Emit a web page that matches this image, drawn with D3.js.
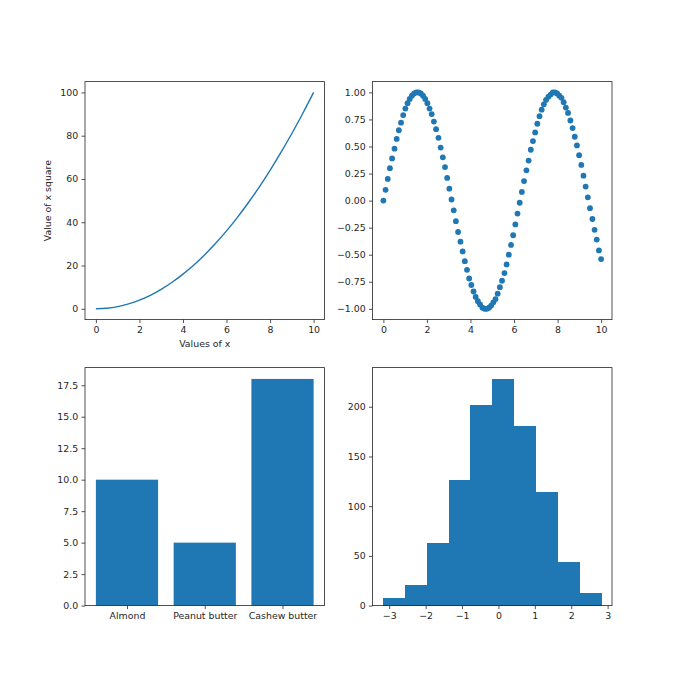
<!DOCTYPE html>
<html lang="en">
  <head>
    <meta charset="UTF-8" />
    <title>subplots</title>
    <script src="https://d3js.org/d3.v7.min.js"></script>
    <style>
      body { margin: 0; background: #fff; }
      text { font-family: "DejaVu Sans", sans-serif !important; }
      .tick text { font-size: 9.4px; fill: #262626; }
      .tick line { stroke: #262626; stroke-width: 0.8; }
      .spine { fill: none; stroke: #262626; stroke-width: 0.8; }
      .label { font-size: 9.4px; fill: #262626; }
    </style>
  </head>
  <body>
    <div id="chart"></div>
    <script>
      // --- datos ---
      // linea x^2
      var lineX = [0, 0.5, 1, 1.5, 2, 2.5, 3, 3.5, 4, 4.5, 5, 5.5, 6, 6.5, 7, 7.5, 8, 8.5, 9, 9.5, 10];
      var lineY = [0, 0.25, 1, 2.25, 4, 6.25, 9, 12.25, 16, 20.25, 25, 30.25, 36, 42.25, 49, 56.25, 64, 72.25, 81, 90.25, 100];

      // puntos seno
      var dotX = [
        0, 0.10, 0.20, 0.30, 0.40, 0.51, 0.61, 0.71, 0.81, 0.91,
        1.01, 1.11, 1.21, 1.31, 1.41, 1.52, 1.62, 1.72, 1.82, 1.92,
        2.02, 2.12, 2.22, 2.32, 2.42, 2.53, 2.63, 2.73, 2.83, 2.93,
        3.03, 3.13, 3.23, 3.33, 3.43, 3.54, 3.64, 3.74, 3.84, 3.94,
        4.04, 4.14, 4.24, 4.34, 4.44, 4.55, 4.65, 4.75, 4.85, 4.95,
        5.05, 5.15, 5.25, 5.35, 5.45, 5.56, 5.66, 5.76, 5.86, 5.96,
        6.06, 6.16, 6.26, 6.36, 6.46, 6.57, 6.67, 6.77, 6.87, 6.97,
        7.07, 7.17, 7.27, 7.37, 7.47, 7.58, 7.68, 7.78, 7.88, 7.98,
        8.08, 8.18, 8.28, 8.38, 8.48, 8.59, 8.69, 8.79, 8.89, 8.99,
        9.09, 9.19, 9.29, 9.39, 9.49, 9.60, 9.70, 9.80, 9.90, 10
      ];
      var dotY = [
        0, 0.10, 0.20, 0.30, 0.39, 0.48, 0.57, 0.65, 0.72, 0.79,
        0.85, 0.90, 0.94, 0.97, 0.99, 1.00, 1.00, 0.99, 0.97, 0.94,
        0.90, 0.85, 0.80, 0.73, 0.66, 0.58, 0.49, 0.40, 0.31, 0.21,
        0.11, 0.01, -0.09, -0.19, -0.29, -0.38, -0.47, -0.56, -0.64, -0.72,
        -0.78, -0.84, -0.89, -0.93, -0.96, -0.99, -1.00, -1.00, -0.99, -0.97,
        -0.94, -0.91, -0.86, -0.80, -0.74, -0.67, -0.59, -0.50, -0.41, -0.32,
        -0.22, -0.12, -0.02, 0.08, 0.18, 0.28, 0.37, 0.47, 0.55, 0.63,
        0.71, 0.78, 0.84, 0.89, 0.93, 0.96, 0.98, 1.00, 1.00, 0.99,
        0.97, 0.95, 0.91, 0.86, 0.81, 0.74, 0.67, 0.59, 0.51, 0.42,
        0.33, 0.23, 0.13, 0.03, -0.07, -0.17, -0.27, -0.36, -0.46, -0.54
      ];

      // barras
      var categorias = ["Almond", "Peanut butter", "Cashew butter"];
      var valores = [10, 5, 18];

      // histograma
      var bordes = [-3.16, -2.56, -1.96, -1.36, -0.77, -0.17, 0.42, 1.02, 1.62, 2.22, 2.82];
      var conteos = [8, 21, 63, 126, 202, 228, 181, 114, 44, 13];

      // ticks
      var ticks10 = [0, 2, 4, 6, 8, 10];
      var ticksCuadrado = [0, 20, 40, 60, 80, 100];
      var ticksSeno = [-1, -0.75, -0.5, -0.25, 0, 0.25, 0.5, 0.75, 1];
      var ticksBarra = [0, 2.5, 5, 7.5, 10, 12.5, 15, 17.5];
      var ticksHistX = [-3, -2, -1, 0, 1, 2, 3];
      var ticksHistY = [0, 50, 100, 150, 200];

      var color = "#1f77b4";
      var W = 680, H = 680;
      var aw = 239.5, ah = 238;
      var pos = [
        [85, 81.6], [372.5, 81.6],
        [85, 367.6], [372.5, 367.6]
      ];

      var svg = d3.select("#chart").append("svg").attr("width", W).attr("height", H);

      function menos(f) {
        return function (d) { return f(d).replace("-", "\u2212"); };
      }

      // crea un panel con sus ejes
      function panel(i, x, y, xt, yt, xfmt, yfmt) {
        var g = svg.append("g").attr("transform", "translate(" + pos[i][0] + "," + pos[i][1] + ")");
        var cuerpo = g.append("g");
        var ax = d3.axisBottom(x).tickSizeInner(3.5).tickSizeOuter(0).tickPadding(3.3);
        if (xt) ax.tickValues(xt);
        if (xfmt) ax.tickFormat(xfmt);
        var gx = g.append("g").attr("transform", "translate(0," + ah + ")").call(ax);
        gx.select(".domain").remove();
        var ay = d3.axisLeft(y).tickValues(yt).tickSizeInner(3.5).tickSizeOuter(0).tickPadding(3.3).tickFormat(yfmt);
        var gy = g.append("g").call(ay);
        gy.select(".domain").remove();
        g.selectAll("g").attr("font-family", null).attr("font-size", null);
        g.append("rect").attr("class", "spine").attr("width", aw).attr("height", ah);
        return { g: g, cuerpo: cuerpo };
      }

      // 1. linea
      var x1 = d3.scaleLinear().domain([-0.5, 10.5]).range([0, aw]);
      var y1 = d3.scaleLinear().domain([-5, 105]).range([ah, 0]);
      var p1 = panel(0, x1, y1, ticks10, ticksCuadrado, d3.format("d"), d3.format("d"));
      p1.cuerpo.append("path")
        .datum(d3.range(lineX.length))
        .attr("fill", "none")
        .attr("stroke", color)
        .attr("stroke-width", 1.4)
        .attr("d", d3.line().x((k) => x1(lineX[k])).y((k) => y1(lineY[k])).curve(d3.curveMonotoneX));
      p1.g.append("text").attr("class", "label")
        .attr("x", aw / 2).attr("y", ah + 27).attr("text-anchor", "middle").text("Values of x");
      p1.g.append("text").attr("class", "label")
        .attr("transform", "translate(-34," + ah / 2 + ") rotate(-90)")
        .attr("text-anchor", "middle").text("Value of x square");

      // 2. puntos
      var x2 = d3.scaleLinear().domain([-0.5, 10.5]).range([0, aw]);
      var y2 = d3.scaleLinear().domain([-1.0997, 1.0997]).range([ah, 0]);
      var p2 = panel(1, x2, y2, ticks10, ticksSeno, d3.format("d"), menos(d3.format(".2f")));
      p2.cuerpo.selectAll("circle")
        .data(d3.range(dotX.length))
        .enter()
        .append("circle")
        .attr("cx", (k) => x2(dotX[k]))
        .attr("cy", (k) => y2(dotY[k]))
        .attr("r", 2.9)
        .attr("fill", color);

      // 3. barras
      var x3 = d3.scaleLinear().domain([-0.54, 2.54]).range([0, aw]);
      var y3 = d3.scaleLinear().domain([0, 18.9]).range([ah, 0]);
      var p3 = panel(2, x3, y3, [0, 1, 2], ticksBarra, (d) => categorias[d], d3.format(".1f"));
      p3.cuerpo.selectAll("rect")
        .data(valores)
        .enter()
        .append("rect")
        .attr("x", (d, i) => x3(i - 0.4))
        .attr("width", (d, i) => x3(i + 0.4) - x3(i - 0.4))
        .attr("y", (d) => y3(d))
        .attr("height", (d) => ah - y3(d))
        .attr("fill", color);

      // 4. histograma
      var x4 = d3.scaleLinear().domain([-3.46, 3.12]).range([0, aw]);
      var y4 = d3.scaleLinear().domain([0, 239.4]).range([ah, 0]);
      var p4 = panel(3, x4, y4, ticksHistX, ticksHistY, menos(d3.format("d")), d3.format("d"));
      p4.cuerpo.selectAll("rect")
        .data(conteos)
        .enter()
        .append("rect")
        .attr("x", (d, i) => x4(bordes[i]))
        .attr("width", (d, i) => x4(bordes[i + 1]) - x4(bordes[i]) + 0.5)
        .attr("y", (d) => y4(d))
        .attr("height", (d) => ah - y4(d))
        .attr("fill", color)
        .attr("shape-rendering", "crispEdges");
    </script>
  </body>
</html>
